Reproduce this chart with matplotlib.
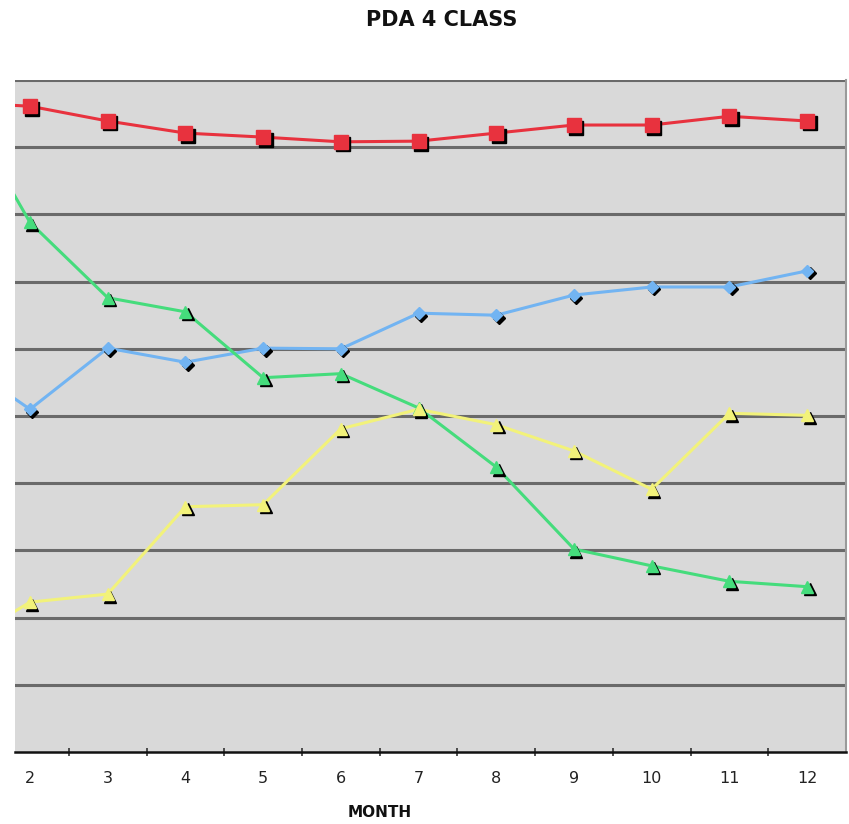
import matplotlib
matplotlib.use("Agg")
import matplotlib.pyplot as plt
import matplotlib.transforms as mtransforms
import numpy as np

months = [1, 2, 3, 4, 5, 6, 7, 8, 9, 10, 11, 12]
tick_months = [2, 3, 4, 5, 6, 7, 8, 9, 10, 11, 12]

red_vals = [96.7, 96.1, 93.9, 92.1, 91.5, 90.8, 90.9, 92.1, 93.3, 93.3, 94.6, 93.9]
green_vals = [99.0, 78.8, 67.6, 65.5, 55.7, 56.3, 51.2, 42.4, 30.2, 27.7, 25.4, 24.6]
blue_vals = [59.0, 51.0, 60.1, 58.0, 60.1, 60.0, 65.3, 65.0, 68.0, 69.2, 69.2, 71.6]
yellow_vals = [15.3, 22.3, 23.5, 36.5, 36.8, 48.1, 51.0, 48.7, 44.8, 39.1, 50.4, 50.1]

title = "PDA 4 CLASS"
xlabel = "MONTH"

W, H = 849, 824
fig = plt.figure(figsize=(W / 100, H / 100), dpi=100)
fig.patch.set_facecolor("white")

left, right, top, bottom = 15, 846, 80, 752
ax = fig.add_axes([left / W, 1 - bottom / H, (right - left) / W, (bottom - top) / H])
ax.set_facecolor("#d9d9d9")

ax.set_xlim(1.807, 12.5)
ax.set_ylim(0, 100)

# gridlines
for yv in np.arange(10, 101, 10):
    ax.axhline(yv, color="#6a6a6a", lw=2.2, zorder=1)

shadow = mtransforms.offset_copy(ax.transData, fig=fig, x=2.5, y=-2.5, units="dots")

series = [
    (red_vals, "#e8323e", "s", 10),
    (blue_vals, "#72b4f2", "D", 6),
    (green_vals, "#45dc7c", "^", 8),
    (yellow_vals, "#f2f27a", "^", 8),
]
for vals, col, mk, ms in series:
    ax.plot(months, vals, color=col, lw=2.2, zorder=3, solid_joinstyle="round", clip_on=True)
    ax.plot(months, vals, ls="none", marker=mk, ms=ms, color="black", mec="black",
            transform=shadow, zorder=4, clip_on=True)
    ax.plot(months, vals, ls="none", marker=mk, ms=ms, color=col, mec=col,
            zorder=5, clip_on=True)

# spines
for s in ["top", "left"]:
    ax.spines[s].set_visible(False)
ax.spines["right"].set_color("#9a9a9a")
ax.spines["right"].set_linewidth(1.5)
ax.spines["bottom"].set_color("#111111")
ax.spines["bottom"].set_linewidth(1.8)

ax.set_yticks([])
ax.set_xticks(tick_months)
ax.set_xticklabels([str(m) for m in tick_months], fontsize=11.5, color="#222222")
ax.tick_params(axis="x", which="major", length=0, pad=14)
ax.set_xticks(np.arange(2.5, 12, 1.0), minor=True)
ax.tick_params(axis="x", which="minor", length=6, width=1.2, direction="inout", color="#333333")

ax.text(6.5, -0.09, xlabel, transform=mtransforms.blended_transform_factory(ax.transData, ax.transAxes),
        ha="center", va="center", fontsize=11, fontweight="bold", color="#111111")

fig.text(442 / W, 1 - 20 / H, title, ha="center", va="center", fontsize=15,
         fontweight="bold", color="#111111")

fig.savefig("out.png", dpi=100, facecolor="white")
